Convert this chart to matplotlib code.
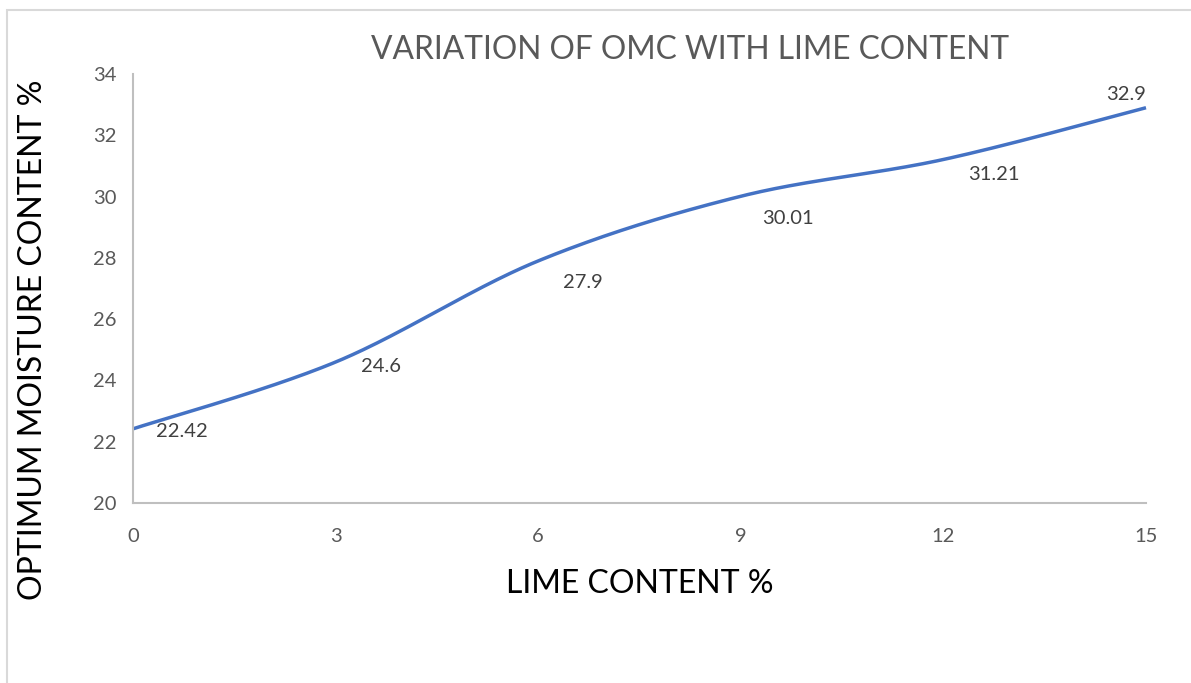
import numpy as np
import matplotlib
matplotlib.use("Agg")
import matplotlib.pyplot as plt
from matplotlib.patches import Rectangle

plt.rcParams['font.family'] = ['Lato', 'DejaVu Sans']

# Data
lime_content = [0, 3, 6, 9, 12, 15]
omc = [22.42, 24.6, 27.9, 30.01, 31.21, 32.9]
x_ticks = [0, 3, 6, 9, 12, 15]
y_ticks = [20, 22, 24, 26, 28, 30, 32, 34]
# label offsets in pixels (dx, dy) relative to each point
label_offsets = [(49, -3), (45, -4), (45, -22), (47, -22), (50, -15), (-20, 13)]


def smooth_curve(xs, ys, n=60):
    """Bezier smoothing through the points (Catmull-Rom style control points)."""
    pts = np.column_stack([xs, ys]).astype(float)
    ext = np.vstack([pts[0], pts, pts[-1]])
    out = []
    t = np.linspace(0, 1, n)[:, None]
    for i in range(len(pts) - 1):
        p0, p1, p2, p3 = ext[i], ext[i + 1], ext[i + 2], ext[i + 3]
        c1 = p1 + (p2 - p0) / 6.0
        c2 = p2 - (p3 - p1) / 6.0
        seg = ((1 - t) ** 3) * p1 + 3 * ((1 - t) ** 2) * t * c1 \
            + 3 * (1 - t) * t ** 2 * c2 + t ** 3 * p2
        out.append(seg if i == 0 else seg[1:])
    curve = np.vstack(out)
    return curve[:, 0], curve[:, 1]


W, H = 1191, 683
fig = plt.figure(figsize=(W / 100, H / 100), dpi=100)
fig.patch.set_facecolor('white')

# chart-area border
fig.patches.append(Rectangle((7 / W, -0.1), 1.2, 1 - 10 / H + 0.1,
                             transform=fig.transFigure, fill=False,
                             edgecolor='#D9D9D9', linewidth=1.5))

ax = fig.add_axes([133 / W, 1 - 503 / H, (1146 - 133) / W, (503 - 74) / H])
ax.set_xlim(0, 15)
ax.set_ylim(20, 34)

sx, sy = smooth_curve(lime_content, omc)
ax.plot(sx, sy, color='#4472C4', linewidth=2.5, solid_capstyle='butt', clip_on=False)

for x, y, (dx, dy) in zip(lime_content, omc, label_offsets):
    ax.annotate(f"{y:g}", xy=(x, y), xytext=(dx, dy), textcoords='offset pixels',
                ha='center', va='center', fontsize=14.5, color='#404040')

ax.set_xticks(x_ticks)
ax.set_yticks(y_ticks)
ax.tick_params(axis='both', length=0, labelsize=14.5, labelcolor='#595959')
ax.tick_params(axis='x', pad=18)
ax.tick_params(axis='y', pad=12)

for side in ['top', 'right']:
    ax.spines[side].set_visible(False)
for side in ['left', 'bottom']:
    ax.spines[side].set_color('#BFBFBF')
    ax.spines[side].set_linewidth(1.5)

fig.text(690 / W, 1 - 50 / H, "VARIATION OF OMC WITH LIME CONTENT",
         ha='center', va='center', fontsize=22.9, color='#595959')
fig.text(640 / W, 1 - 584 / H, "LIME CONTENT %",
         ha='center', va='center', fontsize=23, color='black')
fig.text(33 / W, 1 - 340 / H, "OPTIMUM MOISTURE CONTENT %",
         ha='center', va='center', rotation=90, fontsize=23, color='black')

fig.savefig("out.png", dpi=100)
